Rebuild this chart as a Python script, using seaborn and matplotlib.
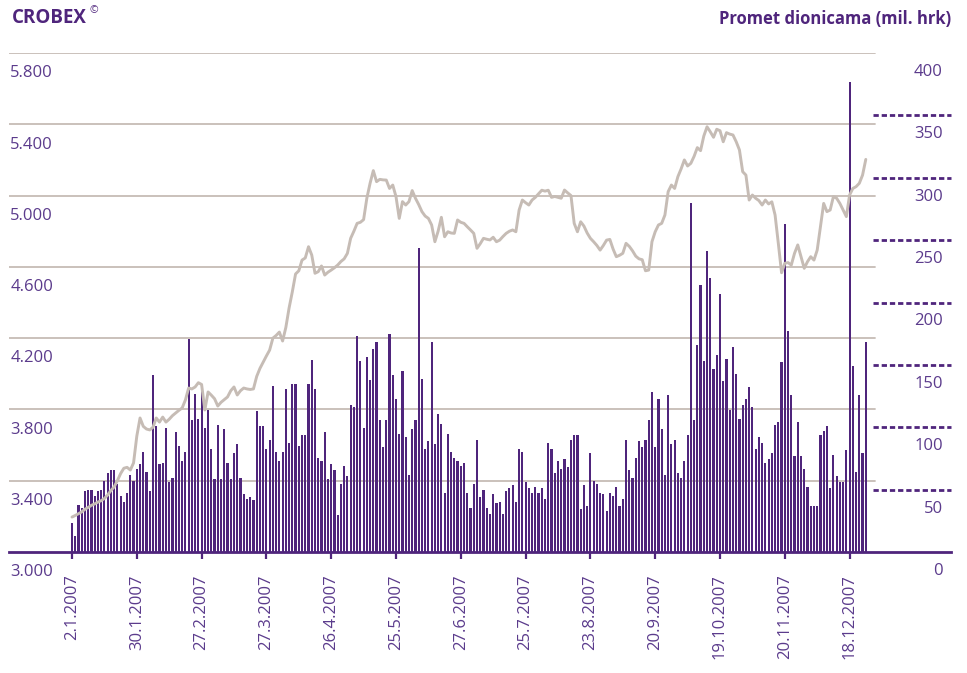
import numpy as np
import pandas as pd
import matplotlib
matplotlib.use("Agg")
import matplotlib.pyplot as plt
import seaborn as sns

# ------------------------------
# Data
# ------------------------------
tick_labels = ["2.1.2007", "30.1.2007", "27.2.2007", "27.3.2007", "26.4.2007",
               "25.5.2007", "27.6.2007", "25.7.2007", "23.8.2007", "20.9.2007",
               "19.10.2007", "20.11.2007", "18.12.2007"]
tick_days = list(range(0, 241, 20))

# daily turnover, mil. hrk (right axis)
turnover = [
    23.5, 12.8, 37.6, 35.2, 48.9, 49.7, 49.7, 44.9, 48.9, 49.7,
    56.9, 63, 65.7, 65.7, 54.5, 44.9, 40.3, 47.5, 61.7, 56.9,
    66.5, 70.5, 80.4, 64, 48.9, 141.8, 101, 70.5, 71.3, 99.3,
    56, 59.3, 96, 85, 72.9, 80.1, 170.6, 105.7, 127, 106.5,
    129.8, 99.3, 113.7, 82.5, 58.5, 101.7, 58.5, 98.5, 71.3, 58.5,
    79.3, 86.5, 59.3, 46.5, 42.5, 44, 41.7, 113, 101, 101,
    82.5, 89.7, 133, 80.1, 72.9, 80.1, 130.6, 87.3, 134.6, 134.6,
    85, 93.7, 93.7, 134.6, 153.8, 131, 75, 73, 96, 58.5,
    70.5, 66, 30, 54.5, 69, 61, 118, 116, 173, 153,
    99, 156, 138, 163, 168, 106, 84, 106, 175, 142,
    123, 94.5, 145, 92, 62, 98.5, 106, 244, 139, 82.5,
    89, 168, 86.5, 111, 103, 47.5, 94.5, 80, 75, 72.6,
    69, 71, 47.5, 35, 54.5, 90, 44.3, 49.7, 35.5, 30.4,
    46.5, 39.5, 40.3, 30.4, 49, 51, 53.7, 40.3, 82.5, 80.4,
    56.3, 51.5, 47.5, 52, 47.5, 51.5, 42.5, 87, 82.5, 63.5,
    73, 66.5, 74.5, 68, 90, 94, 94, 34.5, 53.7, 36.8,
    79.5, 57, 54.5, 47, 46.5, 32.8, 47.5, 44.9, 51.8, 37,
    42.5, 90, 65.7, 59, 75, 89, 84, 90, 106, 128,
    84, 123, 98.5, 62, 126, 86.5, 90, 63.5, 59.5, 73,
    94, 280, 106, 166, 214, 153, 241, 220, 147, 158,
    207, 137, 155, 114, 164, 143, 106.5, 118, 123, 132,
    116, 82.5, 92, 87, 71, 74.5, 79, 102, 104, 152,
    263, 177, 126, 77, 104, 77, 66.5, 52, 37, 37,
    37, 94, 97, 101, 51.5, 78, 61, 56, 56, 82,
    377, 149, 64, 126, 79, 168,
]

# CROBEX index (left axis)
crobex = [
    3196, 3205, 3215, 3225, 3240, 3250, 3262, 3270, 3280, 3288,
    3300, 3320, 3345, 3365, 3400, 3440, 3470, 3475, 3460, 3500,
    3650, 3752, 3705, 3690, 3685, 3700, 3752, 3729, 3757, 3729,
    3745, 3765, 3780, 3795, 3808, 3853, 3920, 3915, 3926, 3950,
    3940, 3797, 3898, 3880, 3860, 3819, 3840, 3855, 3870, 3905,
    3926, 3881, 3905, 3920, 3915, 3912, 3915, 3985, 4030, 4065,
    4100, 4133, 4200, 4215, 4234, 4184, 4260, 4369, 4460, 4560,
    4578, 4638, 4650, 4713, 4666, 4564, 4573, 4605, 4554, 4570,
    4582, 4595, 4610, 4630, 4645, 4676, 4760, 4800, 4844, 4850,
    4865, 4985, 5069, 5140, 5078, 5091, 5088, 5087, 5040, 5059,
    4994, 4872, 4966, 4947, 4966, 5028, 4985, 4950, 4910, 4885,
    4872, 4835, 4741, 4800, 4878, 4769, 4797, 4790, 4788, 4863,
    4850, 4844, 4825, 4807, 4788, 4704, 4730, 4760, 4755, 4751,
    4766, 4741, 4750, 4770, 4788, 4800, 4807, 4797, 4919, 4975,
    4960, 4947, 4975, 4990, 5010, 5030, 5025, 5030, 4990, 4995,
    4990, 4985, 5031, 5015, 5000, 4844, 4797, 4853, 4829, 4790,
    4760, 4741, 4720, 4694, 4720, 4750, 4754, 4700, 4657, 4665,
    4676, 4732, 4715, 4690, 4660, 4645, 4640, 4578, 4582, 4741,
    4797, 4835, 4844, 4891, 5022, 5059, 5040, 5106, 5150, 5200,
    5166, 5181, 5220, 5269, 5252, 5334, 5386, 5358, 5327, 5372,
    5364, 5302, 5353, 5345, 5340, 5302, 5256, 5134, 5115, 4975,
    5003, 4985, 4972, 4947, 4975, 4953, 4965, 4891, 4732, 4567,
    4620, 4624, 4610, 4676, 4723, 4657, 4592, 4629, 4657, 4638,
    4694, 4825, 4956, 4910, 4919, 4994, 4985, 4956, 4919, 4882,
    5003, 5040, 5050, 5069, 5115, 5203,
]

left_levels = [3000, 3400, 3800, 4200, 4600, 5000, 5400, 5800]
right_levels = [0, 50, 100, 150, 200, 250, 300, 350, 400]

days = np.arange(len(turnover))
df = pd.DataFrame({"day": days, "turnover": turnover, "crobex": crobex})

# ------------------------------
# Style
# ------------------------------
PURPLE = "#4f257c"
TEXT = "#5b3b8c"
GREY = "#c6bcb5"

sns.set_style("white")
plt.rcParams["font.family"] = ["Open Sans", "DejaVu Sans"]

W, H = 967, 673
fig = plt.figure(figsize=(W / 100, H / 100), dpi=100)

# axes box in pixels: x 9..951, y 53..552
ax = fig.add_axes([9 / W, 1 - 552 / H, (951 - 9) / W, (552 - 53) / H])

sns.barplot(data=df, x="day", y="turnover", ax=ax, color=PURPLE,
            native_scale=True, width=0.66, saturation=1, errorbar=None,
            linewidth=0, edgecolor="none", zorder=2)

ax2 = ax.twinx()
sns.lineplot(data=df, x="day", y="crobex", ax=ax2, color=GREY,
             linewidth=2.1, zorder=3)

# day 0 sits at 72 px, 3.24 px per trading day
ax.set_xlim(-(72 - 9) / 3.24, (951 - 72) / 3.24)
ax.set_ylim(0, 400)
ax2.set_ylim(3000, 5800)
ax2.set_zorder(ax.get_zorder() + 1)
ax2.patch.set_visible(False)

# gray grid for the index scale, drawn under the bars
grid_end = (875 - 9) / (951 - 9)
for v in left_levels[1:]:
    ax.axhline((v - 3000) / 7.0, xmin=0, xmax=grid_end, color=GREY,
               lw=1.3, zorder=0.5)

# dashed marks on the turnover scale
dash_start = (873 - 9) / (951 - 9)
for v in right_levels[1:-1]:
    ax.plot([dash_start, 1.0], [v, v], transform=ax.get_yaxis_transform(),
            color=PURPLE, lw=2, ls=(0, (1.9, 1.05)), clip_on=False,
            dash_capstyle="butt")

# left (CROBEX) labels inside the plot, below each gridline
for v in left_levels:
    ax2.annotate(f"{v:,}".replace(",", "."), xy=(0, v),
                 xycoords=ax2.get_yaxis_transform(), xytext=(1, -17.5),
                 textcoords="offset points", ha="left", va="baseline",
                 fontsize=12, color=TEXT)

# right (turnover) labels
for v in right_levels:
    ax.annotate(str(v), xy=(1, v), xycoords=ax.get_yaxis_transform(),
                xytext=(-6, -16.5), textcoords="offset points",
                ha="right", va="baseline", fontsize=12, color=TEXT)

# spines / ticks
for a in (ax, ax2):
    for s in a.spines.values():
        s.set_visible(False)
ax.spines["bottom"].set_visible(True)
ax.spines["bottom"].set_color(PURPLE)
ax.spines["bottom"].set_linewidth(2)
ax.spines["bottom"].set_zorder(4)

ax.set_xticks(tick_days)
ax.set_xticklabels(tick_labels, rotation=90)
ax.tick_params(axis="x", bottom=True, direction="out", length=5, width=1.6,
               color=PURPLE, pad=11, labelsize=12, labelcolor=TEXT)
ax.tick_params(axis="y", left=False, labelleft=False)
ax2.tick_params(axis="y", right=False, labelright=False)
ax.set_xlabel("")
ax.set_ylabel("")
ax2.set_ylabel("")
ax.grid(False)
ax2.grid(False)

# titles
fig.text(12 / W, 1 - 18 / H, "CROBEX", ha="left", va="center",
         fontsize=13.5, fontweight="bold", color=PURPLE)
fig.text(89 / W, 1 - 11 / H, "©", ha="left", va="center",
         fontsize=7.5, color=PURPLE)
fig.text(951 / W, 1 - 19 / H, "Promet dionicama (mil. hrk)", ha="right",
         va="center", fontsize=12, fontweight="bold", color=PURPLE)

fig.savefig("out.png", dpi=100)
